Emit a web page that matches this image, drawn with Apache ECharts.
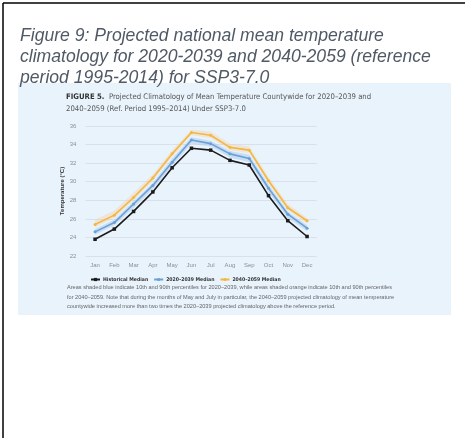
<!DOCTYPE html>
<html><head><meta charset="utf-8">
<script src="https://cdn.jsdelivr.net/npm/echarts@6/dist/echarts.min.js"></script>
<style>html,body{margin:0;padding:0;background:#fff}#c{width:465px;height:438px}</style>
</head><body><div id="c"></div>
<script>
var months = ['Jan','Feb','Mar','Apr','May','Jun','Jul','Aug','Sep','Oct','Nov','Dec'];
var yTicks = [22,24,26,28,30,32,34,36];
var historical = [23.8,24.9,26.8,28.9,31.5,33.6,33.4,32.3,31.8,28.5,25.8,24.1];
var median2020 = [24.6,25.6,27.6,29.6,32.1,34.5,34.1,33.0,32.5,29.3,26.5,25.0];
var median2040 = [25.4,26.4,28.3,30.4,33.0,35.3,35.0,33.7,33.4,30.1,27.2,25.8];
var p10_2020 = [24.3,25.3,27.2,29.2,31.7,34.1,33.8,32.6,32.1,28.9,26.1,24.7];
var p90_2020 = [24.9,25.9,27.9,29.9,32.5,34.8,34.4,33.3,32.9,29.7,26.8,25.3];
var p10_2040 = [25.1,26.1,28.0,30.1,32.7,35.0,34.7,33.4,33.1,29.8,26.9,25.5];
var p90_2040 = [25.9,26.9,28.8,30.8,33.4,35.6,35.4,34.1,33.8,30.5,27.6,26.1];

function diff(a,b){return a.map(function(v,i){return +(v-b[i]).toFixed(2);});}

var chart = echarts.init(document.getElementById('c'), null, {renderer:'canvas'});
var condFont = 'DejaVu Sans Condensed';
chart.setOption({
  animation:false,
  backgroundColor:'#ffffff',
  graphic:[
    {type:'line', shape:{x1:3,y1:3,x2:465,y2:3}, style:{stroke:'#000',lineWidth:1.5}, z:-1},
    {type:'line', shape:{x1:3,y1:3,x2:3,y2:438}, style:{stroke:'#000',lineWidth:1.5}, z:-1},
    {type:'rect', shape:{x:18,y:83,width:433,height:232}, style:{fill:'#e8f3fc'}, z:-10},
    {type:'text', left:20, top:26, z:5, style:{text:'Figure 9: Projected national mean temperature\nclimatology for 2020-2039 and 2040-2059 (reference\nperiod 1995-2014) for SSP3-7.0', font:'italic 17.6px "Liberation Sans"', fill:'#505a66', lineHeight:21}},
    {type:'text', left:66, top:91, style:{
      text:'{b|FIGURE 5.}  Projected Climatology of Mean Temperature Countywide for 2020–2039 and\n2040–2059 (Ref. Period 1995–2014) Under SSP3-7.0',
      font:'7.7px "DejaVu Sans Condensed"', fill:'#555', lineHeight:12,
      rich:{b:{fontWeight:'bold', fill:'#333', fontFamily:condFont, fontSize:7.7}}}},
    {type:'text', left:67, top:283, style:{
      text:'Areas shaded blue indicate 10th and 90th percentiles for 2020–2039, while areas shaded orange indicate 10th and 90th percentiles\nfor 2040–2059. Note that during the months of May and July in particular, the 2040–2059 projected climatology of mean temperature\ncountywide increased more than two times the 2020–2039 projected climatology above the reference period.',
      font:'5.6px "Liberation Sans"', fill:'#666', lineHeight:9.5}}
  ],
  grid:{left:85.4, top:126, width:231.3, height:130},
  legend:{
    data:['Historical Median','2020–2039 Median','2040–2059 Median'],
    left:85, top:272, itemWidth:9, itemHeight:4, itemGap:5,
    textStyle:{fontSize:5.1, fontWeight:'bold', color:'#333', fontFamily:'"DejaVu Sans Condensed"', padding:[0,0,0,-2]}
  },
  xAxis:{type:'category', data:months, boundaryGap:true,
    axisLine:{show:false}, axisTick:{show:false},
    axisLabel:{fontSize:6, color:'#8a8f96', fontFamily:'Liberation Sans', margin:6}},
  yAxis:{type:'value', min:22, max:36, interval:2,
    name:'Temperature (°C)', nameLocation:'middle', nameGap:12,
    nameTextStyle:{fontSize:6, fontWeight:'bold', color:'#333', fontFamily:'Liberation Sans'},
    axisLabel:{fontSize:6, color:'#8a8f96', fontFamily:'Liberation Sans', margin:9,
      formatter:function(v){return yTicks.indexOf(v)>=0?String(v):'';}},
    splitLine:{lineStyle:{color:'#d3dce6', width:0.8}}},
  series:[
    {name:'p10b', type:'line', data:p10_2020, stack:'b', symbol:'none', lineStyle:{opacity:0}, silent:true, z:1},
    {name:'band2020', type:'line', data:diff(p90_2020,p10_2020), stack:'b', symbol:'none', lineStyle:{opacity:0}, areaStyle:{color:'rgba(150,190,230,0.55)'}, silent:true, z:1},
    {name:'p10o', type:'line', data:p10_2040, stack:'o', symbol:'none', lineStyle:{opacity:0}, silent:true, z:1},
    {name:'band2040', type:'line', data:diff(p90_2040,p10_2040), stack:'o', symbol:'none', lineStyle:{opacity:0}, areaStyle:{color:'rgba(248,205,150,0.5)'}, silent:true, z:1},
    {name:'2040–2059 Median', type:'line', data:median2040, symbol:'circle', symbolSize:3, color:'#f4b73f', lineStyle:{width:1.6}, z:3},
    {name:'2020–2039 Median', type:'line', data:median2020, symbol:'circle', symbolSize:3, color:'#6a9fd8', lineStyle:{width:1.6}, z:4},
    {name:'Historical Median', type:'line', data:historical, symbol:'rect', symbolSize:3.5, color:'#1c1c1c', lineStyle:{width:1.6}, z:5}
  ]
});
</script></body></html>
